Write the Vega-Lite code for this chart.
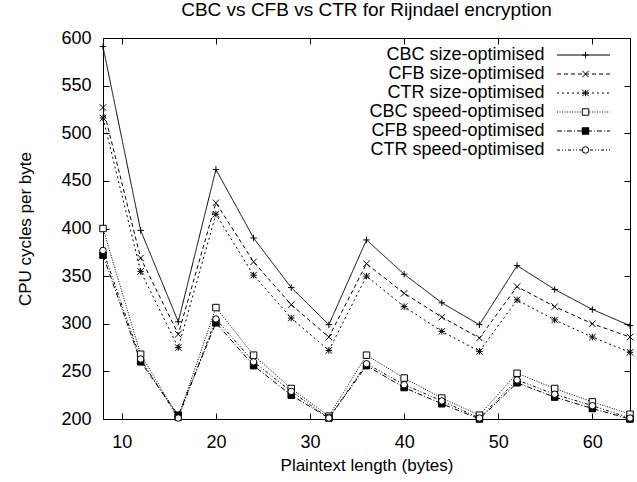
{
  "$schema": "https://vega.github.io/schema/vega-lite/v6.json",
  "width": 527,
  "height": 381,
  "autosize": {"type": "none"},
  "padding": {"left": 103, "top": 38, "right": 7, "bottom": 63},
  "config": {
    "font": "Liberation Sans",
    "view": {"stroke": "black", "strokeWidth": 1},
    "axis": {
      "grid": false,
      "domain": false,
      "tickColor": "black",
      "labelColor": "black",
      "titleColor": "black",
      "labelFontSize": 18,
      "titleFontSize": 17,
      "titleFontWeight": "normal",
      "tickSize": -6
    }
  },
  "title": {
    "text": "CBC vs CFB vs CTR for Rijndael encryption",
    "fontSize": 19,
    "fontWeight": "normal",
    "color": "black",
    "offset": 9
  },
  "data": {
    "values": [
      {"x": 8, "cycles": 591, "series": "CBC size-optimised"},
      {"x": 12, "cycles": 398, "series": "CBC size-optimised"},
      {"x": 16, "cycles": 302, "series": "CBC size-optimised"},
      {"x": 20, "cycles": 462, "series": "CBC size-optimised"},
      {"x": 24, "cycles": 390, "series": "CBC size-optimised"},
      {"x": 28, "cycles": 338, "series": "CBC size-optimised"},
      {"x": 32, "cycles": 299, "series": "CBC size-optimised"},
      {"x": 36, "cycles": 388, "series": "CBC size-optimised"},
      {"x": 40, "cycles": 352, "series": "CBC size-optimised"},
      {"x": 44, "cycles": 322, "series": "CBC size-optimised"},
      {"x": 48, "cycles": 299, "series": "CBC size-optimised"},
      {"x": 52, "cycles": 361, "series": "CBC size-optimised"},
      {"x": 56, "cycles": 336, "series": "CBC size-optimised"},
      {"x": 60, "cycles": 315, "series": "CBC size-optimised"},
      {"x": 64, "cycles": 298, "series": "CBC size-optimised"},
      {"x": 8, "cycles": 527, "series": "CFB size-optimised"},
      {"x": 12, "cycles": 369, "series": "CFB size-optimised"},
      {"x": 16, "cycles": 289, "series": "CFB size-optimised"},
      {"x": 20, "cycles": 427, "series": "CFB size-optimised"},
      {"x": 24, "cycles": 365, "series": "CFB size-optimised"},
      {"x": 28, "cycles": 320, "series": "CFB size-optimised"},
      {"x": 32, "cycles": 286, "series": "CFB size-optimised"},
      {"x": 36, "cycles": 363, "series": "CFB size-optimised"},
      {"x": 40, "cycles": 332, "series": "CFB size-optimised"},
      {"x": 44, "cycles": 307, "series": "CFB size-optimised"},
      {"x": 48, "cycles": 285, "series": "CFB size-optimised"},
      {"x": 52, "cycles": 339, "series": "CFB size-optimised"},
      {"x": 56, "cycles": 318, "series": "CFB size-optimised"},
      {"x": 60, "cycles": 300, "series": "CFB size-optimised"},
      {"x": 64, "cycles": 286, "series": "CFB size-optimised"},
      {"x": 8, "cycles": 516, "series": "CTR size-optimised"},
      {"x": 12, "cycles": 355, "series": "CTR size-optimised"},
      {"x": 16, "cycles": 275, "series": "CTR size-optimised"},
      {"x": 20, "cycles": 415, "series": "CTR size-optimised"},
      {"x": 24, "cycles": 351, "series": "CTR size-optimised"},
      {"x": 28, "cycles": 306, "series": "CTR size-optimised"},
      {"x": 32, "cycles": 272, "series": "CTR size-optimised"},
      {"x": 36, "cycles": 350, "series": "CTR size-optimised"},
      {"x": 40, "cycles": 318, "series": "CTR size-optimised"},
      {"x": 44, "cycles": 292, "series": "CTR size-optimised"},
      {"x": 48, "cycles": 271, "series": "CTR size-optimised"},
      {"x": 52, "cycles": 325, "series": "CTR size-optimised"},
      {"x": 56, "cycles": 304, "series": "CTR size-optimised"},
      {"x": 60, "cycles": 286, "series": "CTR size-optimised"},
      {"x": 64, "cycles": 270, "series": "CTR size-optimised"},
      {"x": 8, "cycles": 400, "series": "CBC speed-optimised"},
      {"x": 12, "cycles": 268, "series": "CBC speed-optimised"},
      {"x": 16, "cycles": 202, "series": "CBC speed-optimised"},
      {"x": 20, "cycles": 317, "series": "CBC speed-optimised"},
      {"x": 24, "cycles": 267, "series": "CBC speed-optimised"},
      {"x": 28, "cycles": 232, "series": "CBC speed-optimised"},
      {"x": 32, "cycles": 203, "series": "CBC speed-optimised"},
      {"x": 36, "cycles": 267, "series": "CBC speed-optimised"},
      {"x": 40, "cycles": 243, "series": "CBC speed-optimised"},
      {"x": 44, "cycles": 222, "series": "CBC speed-optimised"},
      {"x": 48, "cycles": 204, "series": "CBC speed-optimised"},
      {"x": 52, "cycles": 248, "series": "CBC speed-optimised"},
      {"x": 56, "cycles": 232, "series": "CBC speed-optimised"},
      {"x": 60, "cycles": 218, "series": "CBC speed-optimised"},
      {"x": 64, "cycles": 205, "series": "CBC speed-optimised"},
      {"x": 8, "cycles": 372, "series": "CFB speed-optimised"},
      {"x": 12, "cycles": 260, "series": "CFB speed-optimised"},
      {"x": 16, "cycles": 204, "series": "CFB speed-optimised"},
      {"x": 20, "cycles": 301, "series": "CFB speed-optimised"},
      {"x": 24, "cycles": 256, "series": "CFB speed-optimised"},
      {"x": 28, "cycles": 225, "series": "CFB speed-optimised"},
      {"x": 32, "cycles": 201, "series": "CFB speed-optimised"},
      {"x": 36, "cycles": 256, "series": "CFB speed-optimised"},
      {"x": 40, "cycles": 233, "series": "CFB speed-optimised"},
      {"x": 44, "cycles": 216, "series": "CFB speed-optimised"},
      {"x": 48, "cycles": 200, "series": "CFB speed-optimised"},
      {"x": 52, "cycles": 238, "series": "CFB speed-optimised"},
      {"x": 56, "cycles": 223, "series": "CFB speed-optimised"},
      {"x": 60, "cycles": 211, "series": "CFB speed-optimised"},
      {"x": 64, "cycles": 200, "series": "CFB speed-optimised"},
      {"x": 8, "cycles": 377, "series": "CTR speed-optimised"},
      {"x": 12, "cycles": 263, "series": "CTR speed-optimised"},
      {"x": 16, "cycles": 201, "series": "CTR speed-optimised"},
      {"x": 20, "cycles": 305, "series": "CTR speed-optimised"},
      {"x": 24, "cycles": 260, "series": "CTR speed-optimised"},
      {"x": 28, "cycles": 229, "series": "CTR speed-optimised"},
      {"x": 32, "cycles": 201, "series": "CTR speed-optimised"},
      {"x": 36, "cycles": 258, "series": "CTR speed-optimised"},
      {"x": 40, "cycles": 236, "series": "CTR speed-optimised"},
      {"x": 44, "cycles": 219, "series": "CTR speed-optimised"},
      {"x": 48, "cycles": 201, "series": "CTR speed-optimised"},
      {"x": 52, "cycles": 241, "series": "CTR speed-optimised"},
      {"x": 56, "cycles": 226, "series": "CTR speed-optimised"},
      {"x": 60, "cycles": 214, "series": "CTR speed-optimised"},
      {"x": 64, "cycles": 201, "series": "CTR speed-optimised"}
    ]
  },
  "layer": [
    {
      "mark": {"type": "line", "strokeWidth": 1, "color": "black"},
      "encoding": {
        "x": {
          "field": "x", "type": "quantitative",
          "scale": {"domain": [8, 64], "nice": false, "zero": false},
          "axis": {"orient": "bottom", "values": [10, 20, 30, 40, 50, 60], "title": "Plaintext length (bytes)", "labelPadding": 20, "titlePadding": 6}
        },
        "y": {
          "field": "cycles", "type": "quantitative",
          "scale": {"domain": [200, 600], "nice": false, "zero": false},
          "axis": {"orient": "left", "values": [200, 250, 300, 350, 400, 450, 500, 550, 600], "title": "CPU cycles per byte", "labelPadding": 18, "titlePadding": 26}
        },
        "strokeDash": {
          "field": "series", "type": "nominal",
          "scale": {
            "domain": ["CBC size-optimised", "CFB size-optimised", "CTR size-optimised", "CBC speed-optimised", "CFB speed-optimised", "CTR speed-optimised"],
            "range": [[1, 0], [4, 3], [2, 3], [1, 1.5], [5, 2, 1, 2], [3, 2, 1, 2, 1, 2]]
          },
          "legend": {
            "orient": "none", "legendX": 471.5, "legendY": 8,
            "title": null, "padding": 0,
            "symbolType": "M-5.3,0L5.3,0", "symbolSize": 100,
            "symbolStrokeColor": "black", "symbolStrokeWidth": 1,
            "labelAlign": "right", "labelOffset": -48, "labelLimit": 400,
            "labelFontSize": 18, "labelColor": "black",
            "rowPadding": 1
          }
        }
      }
    },
    {
      "mark": {"type": "point", "filled": true, "stroke": "black", "strokeWidth": 1, "size": 42, "opacity": 1},
      "encoding": {
        "x": {
          "field": "x", "type": "quantitative",
          "axis": {"orient": "top", "values": [10, 20, 30, 40, 50, 60], "labels": false, "title": null}
        },
        "y": {
          "field": "cycles", "type": "quantitative",
          "axis": {"orient": "right", "values": [200, 250, 300, 350, 400, 450, 500, 550, 600], "labels": false, "title": null}
        },
        "shape": {
          "field": "series", "type": "nominal", "sort": null,
          "scale": {"range": ["M-1,0L1,0M0,-1L0,1", "M-1,-1L1,1M-1,1L1,-1", "M-1,-1L1,1M-1,1L1,-1M-1,0L1,0M0,-1L0,1", "square", "M-1,-1H1V1H-1ZM-1,-0.75H1M-1,-0.5H1M-1,-0.25H1M-1,0H1M-1,0.25H1M-1,0.5H1M-1,0.75H1", "circle"]},
          "legend": {
            "orient": "none", "legendX": 473.5, "legendY": 8,
            "title": null, "padding": 0,
            "symbolSize": 42, "symbolStrokeColor": "black", "symbolStrokeWidth": 1, "symbolFillColor": "white",
            "labelOpacity": 0, "labelFontSize": 18, "labelExpr": "' '",
            "rowPadding": 1
          }
        },
        "fill": {
          "field": "series", "type": "nominal", "sort": null,
          "scale": {"range": ["transparent", "transparent", "transparent", "white", "black", "white"]},
          "legend": null
        }
      }
    }
  ],
  "resolve": {"axis": {"x": "independent", "y": "independent"}}
}
